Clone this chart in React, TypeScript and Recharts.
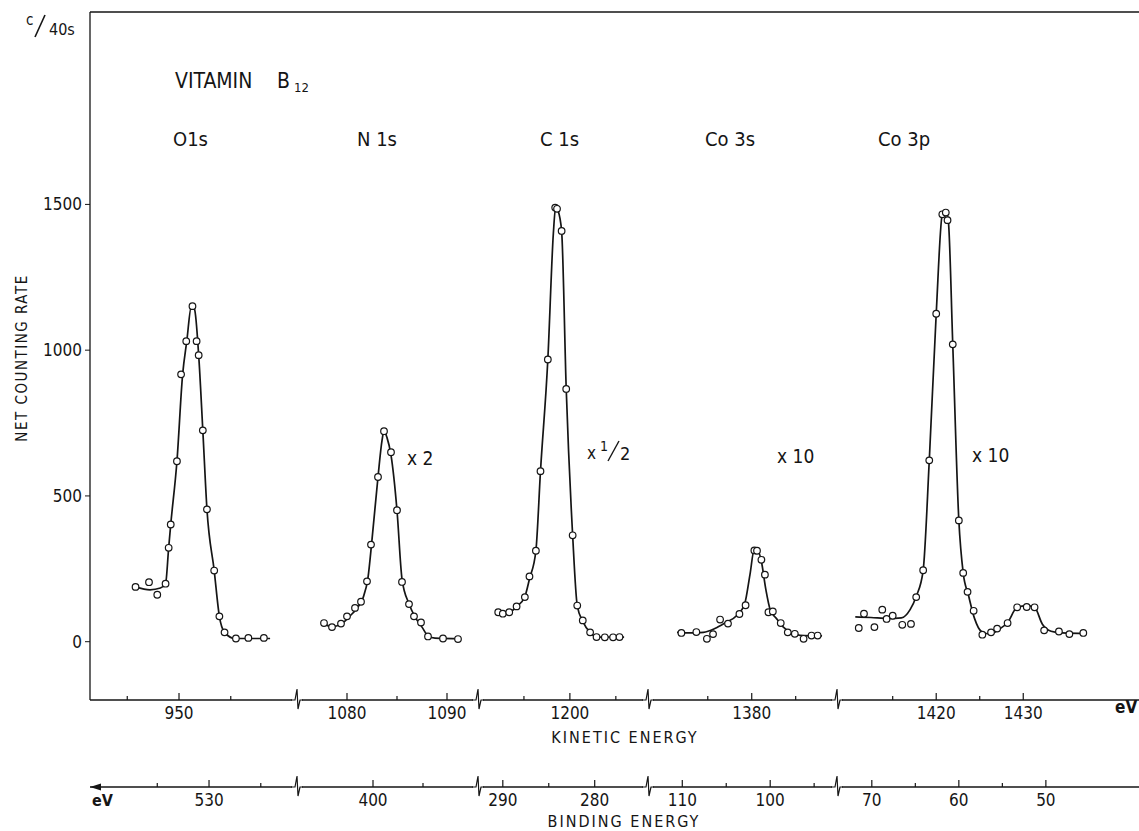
import {
  ComposedChart,
  Line,
  Scatter,
  XAxis,
  YAxis,
  ReferenceLine,
} from "recharts";

const FONT = '"DejaVu Sans Condensed", "DejaVu Sans", sans-serif';
const INK = "#151515";

// measured points, kinetic energy (eV) vs net counts per 40 s
const o1sPoints = [
  { ke: 945.8, rate: 188 }, { ke: 947.1, rate: 204 }, { ke: 947.9, rate: 161 },
  { ke: 948.7, rate: 199 }, { ke: 949.0, rate: 322 }, { ke: 949.2, rate: 402 },
  { ke: 949.8, rate: 619 }, { ke: 950.2, rate: 917 }, { ke: 950.7, rate: 1031 },
  { ke: 951.3, rate: 1151 }, { ke: 951.7, rate: 1031 }, { ke: 951.9, rate: 983 },
  { ke: 952.3, rate: 725 }, { ke: 952.7, rate: 454 }, { ke: 953.4, rate: 244 },
  { ke: 953.9, rate: 87 }, { ke: 954.4, rate: 32 }, { ke: 955.5, rate: 11 },
  { ke: 956.7, rate: 13 }, { ke: 958.2, rate: 13 },
];
const o1sCurve = [
  { ke: 945.8, rate: 188 }, { ke: 947.2, rate: 178 }, { ke: 948.2, rate: 184 },
  { ke: 948.7, rate: 199 }, { ke: 949.0, rate: 322 }, { ke: 949.2, rate: 402 },
  { ke: 949.8, rate: 619 }, { ke: 950.35, rate: 917 }, { ke: 950.75, rate: 1031 },
  { ke: 951.2, rate: 1151 }, { ke: 951.5, rate: 1140 }, { ke: 951.9, rate: 983 },
  { ke: 952.3, rate: 725 }, { ke: 952.7, rate: 454 }, { ke: 953.4, rate: 244 },
  { ke: 953.9, rate: 87 }, { ke: 954.4, rate: 32 }, { ke: 955.4, rate: 11 },
  { ke: 958.8, rate: 11 },
];

const n1sPoints = [
  { ke: 1077.7, rate: 64 }, { ke: 1078.5, rate: 50 }, { ke: 1079.4, rate: 62 },
  { ke: 1080.0, rate: 87 }, { ke: 1080.8, rate: 116 }, { ke: 1081.4, rate: 137 },
  { ke: 1082.0, rate: 207 }, { ke: 1082.4, rate: 333 }, { ke: 1083.1, rate: 565 },
  { ke: 1083.7, rate: 722 }, { ke: 1084.4, rate: 650 }, { ke: 1085.0, rate: 451 },
  { ke: 1085.5, rate: 205 }, { ke: 1086.2, rate: 129 }, { ke: 1086.7, rate: 87 },
  { ke: 1087.4, rate: 66 }, { ke: 1088.1, rate: 18 }, { ke: 1089.6, rate: 11 },
  { ke: 1091.1, rate: 9 },
];
const n1sCurve = [
  { ke: 1077.6, rate: 62 }, { ke: 1078.5, rate: 52 }, { ke: 1079.4, rate: 60 },
  { ke: 1080.2, rate: 85 }, { ke: 1081.0, rate: 115 }, { ke: 1081.6, rate: 150 },
  { ke: 1082.1, rate: 220 }, { ke: 1082.5, rate: 350 }, { ke: 1083.1, rate: 565 },
  { ke: 1083.5, rate: 690 }, { ke: 1083.7, rate: 722 }, { ke: 1084.0, rate: 700 },
  { ke: 1084.4, rate: 640 }, { ke: 1085.0, rate: 450 }, { ke: 1085.5, rate: 215 },
  { ke: 1086.2, rate: 130 }, { ke: 1086.8, rate: 85 }, { ke: 1087.5, rate: 50 },
  { ke: 1088.1, rate: 20 }, { ke: 1088.8, rate: 12 }, { ke: 1091.4, rate: 10 },
];

const c1sPoints = [
  { ke: 1192.2, rate: 101 }, { ke: 1192.7, rate: 96 }, { ke: 1193.4, rate: 101 },
  { ke: 1194.2, rate: 121 }, { ke: 1195.1, rate: 153 }, { ke: 1195.6, rate: 224 },
  { ke: 1196.3, rate: 312 }, { ke: 1196.8, rate: 585 }, { ke: 1197.6, rate: 968 },
  { ke: 1198.4, rate: 1489 }, { ke: 1198.6, rate: 1485 }, { ke: 1199.1, rate: 1409 },
  { ke: 1199.6, rate: 867 }, { ke: 1200.3, rate: 365 }, { ke: 1200.8, rate: 124 },
  { ke: 1201.4, rate: 73 }, { ke: 1202.2, rate: 32 }, { ke: 1202.9, rate: 16 },
  { ke: 1203.8, rate: 15 }, { ke: 1204.7, rate: 15 }, { ke: 1205.4, rate: 16 },
];
const c1sCurve = [
  { ke: 1191.9, rate: 104 }, { ke: 1192.7, rate: 96 }, { ke: 1193.4, rate: 100 },
  { ke: 1194.2, rate: 120 }, { ke: 1195.1, rate: 155 }, { ke: 1195.6, rate: 215 },
  { ke: 1196.3, rate: 312 }, { ke: 1196.8, rate: 585 }, { ke: 1197.6, rate: 968 },
  { ke: 1198.2, rate: 1400 }, { ke: 1198.45, rate: 1492 }, { ke: 1198.7, rate: 1480 },
  { ke: 1199.1, rate: 1409 }, { ke: 1199.6, rate: 867 }, { ke: 1200.3, rate: 365 },
  { ke: 1200.8, rate: 124 }, { ke: 1201.4, rate: 70 }, { ke: 1202.2, rate: 32 },
  { ke: 1202.9, rate: 16 }, { ke: 1205.9, rate: 16 },
];

const co3sPoints = [
  { ke: 1372.0, rate: 30 }, { ke: 1373.7, rate: 33 }, { ke: 1374.9, rate: 10 },
  { ke: 1375.6, rate: 26 }, { ke: 1376.4, rate: 76 }, { ke: 1377.3, rate: 62 },
  { ke: 1378.6, rate: 95 }, { ke: 1379.3, rate: 125 }, { ke: 1380.3, rate: 313 },
  { ke: 1380.6, rate: 312 }, { ke: 1381.1, rate: 281 }, { ke: 1381.5, rate: 230 },
  { ke: 1381.9, rate: 101 }, { ke: 1382.4, rate: 104 }, { ke: 1383.3, rate: 64 },
  { ke: 1384.1, rate: 32 }, { ke: 1384.9, rate: 27 }, { ke: 1385.9, rate: 10 },
  { ke: 1386.8, rate: 21 }, { ke: 1387.5, rate: 21 },
];
const co3sCurve = [
  { ke: 1371.5, rate: 32 }, { ke: 1373.0, rate: 30 }, { ke: 1374.5, rate: 32 },
  { ke: 1375.8, rate: 45 }, { ke: 1377.0, rate: 65 }, { ke: 1378.3, rate: 90 },
  { ke: 1379.2, rate: 130 }, { ke: 1379.8, rate: 230 }, { ke: 1380.3, rate: 318 },
  { ke: 1380.6, rate: 318 }, { ke: 1381.1, rate: 275 }, { ke: 1381.6, rate: 180 },
  { ke: 1382.1, rate: 110 }, { ke: 1382.8, rate: 80 }, { ke: 1383.6, rate: 50 },
  { ke: 1384.4, rate: 32 }, { ke: 1385.5, rate: 22 }, { ke: 1388.0, rate: 20 },
];

const co3pPoints = [
  { ke: 1411.1, rate: 47 }, { ke: 1411.7, rate: 96 }, { ke: 1412.9, rate: 50 },
  { ke: 1413.8, rate: 110 }, { ke: 1414.3, rate: 78 }, { ke: 1415.0, rate: 89 },
  { ke: 1416.1, rate: 58 }, { ke: 1417.1, rate: 61 }, { ke: 1417.7, rate: 153 },
  { ke: 1418.5, rate: 245 }, { ke: 1419.2, rate: 622 }, { ke: 1420.0, rate: 1125 },
  { ke: 1420.7, rate: 1466 }, { ke: 1421.1, rate: 1472 }, { ke: 1421.3, rate: 1446 },
  { ke: 1421.9, rate: 1020 }, { ke: 1422.6, rate: 416 }, { ke: 1423.1, rate: 236 },
  { ke: 1423.6, rate: 171 }, { ke: 1424.3, rate: 106 }, { ke: 1425.3, rate: 24 },
  { ke: 1426.3, rate: 32 }, { ke: 1427.0, rate: 45 }, { ke: 1428.2, rate: 64 },
  { ke: 1429.3, rate: 118 }, { ke: 1430.4, rate: 119 }, { ke: 1431.3, rate: 118 },
  { ke: 1432.4, rate: 39 }, { ke: 1434.1, rate: 35 }, { ke: 1435.3, rate: 26 },
  { ke: 1436.9, rate: 30 },
];
const co3pCurve = [
  { ke: 1410.7, rate: 85 }, { ke: 1412.5, rate: 83 }, { ke: 1414.5, rate: 80 },
  { ke: 1416.0, rate: 82 }, { ke: 1417.0, rate: 110 }, { ke: 1417.7, rate: 155 },
  { ke: 1418.5, rate: 245 }, { ke: 1419.2, rate: 620 }, { ke: 1420.0, rate: 1125 },
  { ke: 1420.7, rate: 1466 }, { ke: 1421.1, rate: 1478 }, { ke: 1421.4, rate: 1440 },
  { ke: 1421.9, rate: 1020 }, { ke: 1422.6, rate: 416 }, { ke: 1423.1, rate: 236 },
  { ke: 1423.7, rate: 160 }, { ke: 1424.4, rate: 80 }, { ke: 1425.2, rate: 35 },
  { ke: 1426.2, rate: 26 }, { ke: 1427.2, rate: 42 }, { ke: 1428.2, rate: 66 },
  { ke: 1429.3, rate: 118 }, { ke: 1430.4, rate: 124 }, { ke: 1431.3, rate: 118 },
  { ke: 1432.2, rate: 60 }, { ke: 1433.2, rate: 36 }, { ke: 1434.5, rate: 30 },
  { ke: 1437.2, rate: 28 },
];

// axes
const keDomains = [
  [941.4, 961.4], [1075.0, 1093.1], [1190.0, 1208.5], [1368.2, 1389.7], [1408.6, 1443.3],
];
const keTicks = [
  [945, 950, 955], [1080, 1085, 1090], [1195, 1200, 1205], [1375, 1380, 1385], [1415, 1420, 1425, 1430],
];
const keMajor = [950, 1080, 1090, 1200, 1380, 1420, 1430];
// binding energy = offset - kinetic energy, offset read per segment
const beOffsets = [1482.9, 1482.6, 1482.7, 1482.1, 1482.6];
const beTicks = [
  [535, 530, 525], [400, 395], [290, 285, 280], [110, 105, 100, 95], [70, 65, 60, 55, 50],
];
const beMajor = [530, 400, 290, 280, 110, 100, 70, 60, 50];
const rateTicks = [0, 500, 1000, 1500];
const rateDomain = [-200, 2160];

const pointSets = [o1sPoints, n1sPoints, c1sPoints, co3sPoints, co3pPoints];
const curveSets = [o1sCurve, n1sCurve, c1sCurve, co3sCurve, co3pCurve];

// layout (px)
const W = 1139;
const H = 831;
const AXIS_X = 90;
const edges = [90, 297, 478, 648, 837, 1139];

const AxisTick = ({ x, y, payload, majors }: any) => {
  const major = majors.includes(payload.value);
  return (
    <g>
      <line x1={x} x2={x} y1={y} y2={y - (major ? 7 : 4)} stroke={INK} strokeWidth={1.2} />
      {major && (
        <text x={x} y={y + 19} textAnchor="middle" fontSize={17} fontFamily={FONT} fill={INK}>
          {payload.value}
        </text>
      )}
    </g>
  );
};

const Dot = ({ cx, cy }: any) => (
  <circle cx={cx} cy={cy} r={3.3} fill="#fff" stroke={INK} strokeWidth={1.2} />
);

const Segment = ({ i }: { i: number }) => {
  const first = i === 0;
  const left = first ? 0 : edges[i];
  const width = edges[i + 1] - left;
  const [k0, k1] = keDomains[i];
  const off = beOffsets[i];
  const beData = pointSets[i].map((p) => ({ be: off - p.ke, rate: p.rate }));
  return (
    <div style={{ position: "absolute", left, top: 0 }}>
      <ComposedChart
        width={width}
        height={H}
        margin={{ top: 12, right: 0, bottom: 12, left: 0 }}
      >
        <XAxis
          xAxisId="b_be"
          dataKey="be"
          type="number"
          domain={[off - k1, off - k0]}
          reversed
          allowDataOverflow
          ticks={beTicks[i]}
          interval={0}
          height={32}
          tickSize={0}
          tickMargin={0}
          tickLine={false}
          axisLine={{ stroke: INK, strokeWidth: 1.3 }}
          tick={(p: any) => <AxisTick {...p} majors={beMajor} />}
        />
        <XAxis
          xAxisId="a_ke"
          dataKey="ke"
          type="number"
          domain={[k0, k1]}
          allowDataOverflow
          ticks={keTicks[i]}
          interval={0}
          height={87}
          tickSize={0}
          tickMargin={0}
          tickLine={false}
          axisLine={{ stroke: INK, strokeWidth: 1.3 }}
          tick={(p: any) => <AxisTick {...p} majors={keMajor} />}
        />
        <YAxis
          dataKey="rate"
          type="number"
          domain={rateDomain}
          allowDataOverflow
          hide={!first}
          width={first ? AXIS_X : 0}
          ticks={rateTicks}
          interval={0}
          tickSize={5}
          tickMargin={3}
          tickLine={{ stroke: INK }}
          axisLine={{ stroke: INK, strokeWidth: 1.3 }}
          tick={{ fontSize: 17, fontFamily: FONT, fill: INK }}
        />
        <ReferenceLine xAxisId="a_ke" y={rateDomain[1]} stroke={INK} strokeWidth={1.3} />
        {/* binding energy scale carries the same points, drawn invisibly */}
        <Line
          xAxisId="b_be"
          data={beData}
          dataKey="rate"
          stroke="none"
          dot={false}
          isAnimationActive={false}
        />
        <Line
          xAxisId="a_ke"
          data={curveSets[i]}
          dataKey="rate"
          type="monotone"
          dot={false}
          stroke={INK}
          strokeWidth={1.7}
          isAnimationActive={false}
        />
        <Scatter
          xAxisId="a_ke"
          data={pointSets[i]}
          dataKey="rate"
          shape={Dot}
          isAnimationActive={false}
        />
      </ComposedChart>
    </div>
  );
};

const txt = { fontFamily: FONT, fill: INK } as const;

const Breaks = () => (
  <>
    {edges.slice(1, 5).map((x) =>
      [700, 787].map((y) => (
        <g key={`${x}-${y}`}>
          <rect x={x - 5} y={y - 2} width={10} height={4} fill="#fff" />
          <path
            d={`M${x - 6},${y} L${x - 2},${y} L${x},${y - 11} L${x + 1},${y + 9} L${x + 3},${y} L${x + 6},${y}`}
            fill="none"
            stroke={INK}
            strokeWidth={1.2}
          />
        </g>
      ))
    )}
  </>
);

export default function App() {
  return (
    <div style={{ position: "absolute", left: 0, top: 0, width: W, height: H, background: "#fff", overflow: "hidden" }}>
      {[0, 1, 2, 3, 4].map((i) => (
        <Segment key={i} i={i} />
      ))}
      <svg width={W} height={H} style={{ position: "absolute", left: 0, top: 0, pointerEvents: "none" }}>
        <Breaks />
        <text x={26} y={25} fontSize={15} {...txt}>c</text>
        <line x1={45} y1={15} x2={35} y2={37} stroke={INK} strokeWidth={1.6} />
        <text x={49} y={35} fontSize={16} {...txt}>40s</text>

        <text x={175} y={88} fontSize={21} {...txt}>VITAMIN</text>
        <text x={277} y={88} fontSize={21} {...txt}>B</text>
        <text x={294} y={92} fontSize={13} {...txt}>12</text>

        <text x={173} y={146} fontSize={20} {...txt}>O1s</text>
        <text x={357} y={146} fontSize={20} {...txt}>N 1s</text>
        <text x={540} y={146} fontSize={20} {...txt}>C 1s</text>
        <text x={705} y={146} fontSize={20} {...txt}>Co 3s</text>
        <text x={878} y={146} fontSize={20} {...txt}>Co 3p</text>

        <text x={407} y={465} fontSize={19} {...txt}>x 2</text>
        <text x={587} y={459} fontSize={17} {...txt}>x</text>
        <text x={600} y={451} fontSize={14} {...txt}>1</text>
        <line x1={619} y1={441} x2={608} y2={461} stroke={INK} strokeWidth={1.4} />
        <text x={620} y={460} fontSize={18} {...txt}>2</text>
        <text x={777} y={463} fontSize={19} {...txt}>x 10</text>
        <text x={972} y={462} fontSize={19} {...txt}>x 10</text>

        <text
          transform="translate(27,358) rotate(-90)"
          textAnchor="middle"
          fontSize={15}
          letterSpacing={1.5}
          {...txt}
        >
          NET COUNTING RATE
        </text>
        <text x={625} y={743} textAnchor="middle" fontSize={16} letterSpacing={2} {...txt}>
          KINETIC ENERGY
        </text>
        <text x={624} y={827} textAnchor="middle" fontSize={16} letterSpacing={2} {...txt}>
          BINDING ENERGY
        </text>
        <text x={1115} y={713} fontSize={17} fontWeight="bold" {...txt}>eV</text>
        <path d="M90,787 L101,783.5 L101,790.5 Z" fill={INK} />
        <text x={92} y={806} fontSize={16} fontWeight="bold" {...txt}>eV</text>
      </svg>
    </div>
  );
}
